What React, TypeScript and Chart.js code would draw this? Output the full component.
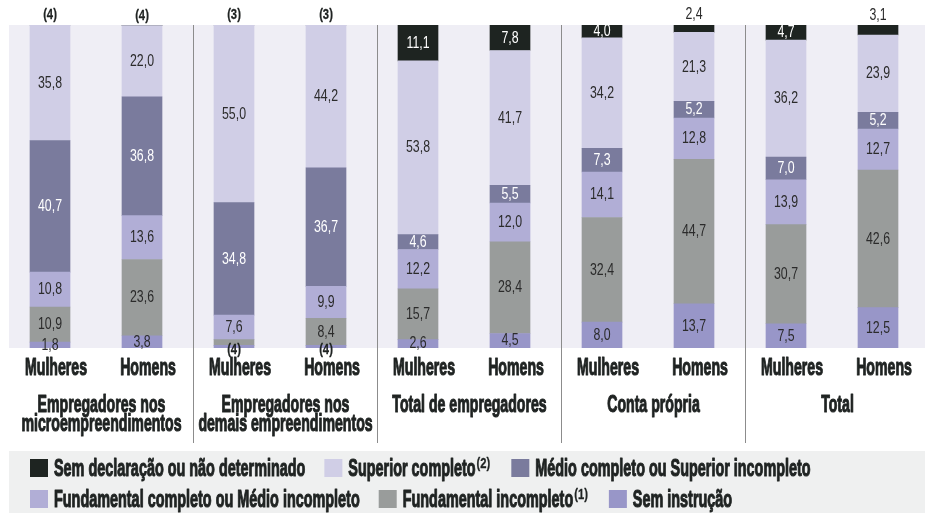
import React, { useEffect, useRef } from "react";
import { Chart, registerables } from "chart.js";

Chart.register(...registerables);

// ---------- data ----------
const categories = [
  "Mulheres", "Homens", "Mulheres", "Homens", "Mulheres",
  "Homens", "Mulheres", "Homens", "Mulheres", "Homens",
];
const groupLabels: string[][] = [
  ["Empregadores nos", "microempreendimentos"],
  ["Empregadores nos", "demais empreendimentos"],
  ["Total de empregadores"],
  ["Conta própria"],
  ["Total"],
];

// stacked bottom -> top
const semInstrucao = [1.8, 3.8, 0.8, 0.8, 2.6, 4.5, 8.0, 13.7, 7.5, 12.5];
const fundIncompleto = [10.9, 23.6, 1.8, 8.4, 15.7, 28.4, 32.4, 44.7, 30.7, 42.6];
const fundCompleto = [10.8, 13.6, 7.6, 9.9, 12.2, 12.0, 14.1, 12.8, 13.9, 12.7];
const medioCompleto = [40.7, 36.8, 34.8, 36.7, 4.6, 5.5, 7.3, 5.2, 7.0, 5.2];
const superiorCompleto = [35.8, 22.0, 55.0, 44.2, 53.8, 41.7, 34.2, 21.3, 36.2, 23.9];
const semDeclaracao = [0, 0, 0, 0, 11.1, 7.8, 4.0, 2.4, 4.7, 3.1];

// footnote labels replacing values (null = show value, "" = no label)
const notesSemInstrucao = [null, null, "(4)", "(4)", null, null, null, null, null, null];
const notesFundIncompleto = [null, null, "", null, null, null, null, null, null, null];
const notesSemDeclaracao = ["(4)", "(4)", "(3)", "(3)", null, null, null, null, null, null];

const seriesNames = [
  "Sem instrução",
  "Fundamental incompleto",
  "Fundamental completo ou Médio incompleto",
  "Médio completo ou Superior incompleto",
  "Superior completo",
  "Sem declaração ou não determinado",
];
const seriesSup = ["", "(1)", "", "", "(2)", ""];

// ---------- styles ----------
const COLORS = ["#9896c8", "#999c9b", "#b1aed6", "#7a7b9d", "#d0cee6", "#1e2421"];
const LABEL_COLORS = ["#2b2b2b", "#2b2b2b", "#2b2b2b", "#ffffff", "#2b2b2b", "#ffffff"];
const PLOT_BG = "#efeef5";
const LEGEND_BG = "#eff0f0";
const FAMILY = "'Liberation Sans', Arial, sans-serif";
const TEXT_DARK = "#1f2322";

const fmt = (v: number) => v.toFixed(1).replace(".", ",");

function drawScaled(
  ctx: CanvasRenderingContext2D,
  text: string,
  x: number,
  y: number,
  font: string,
  sx: number,
  align: CanvasTextAlign,
  baseline: CanvasTextBaseline,
  color: string,
  heavy = 0
) {
  ctx.save();
  ctx.font = font;
  ctx.fillStyle = color;
  ctx.textAlign = align;
  ctx.textBaseline = baseline;
  ctx.translate(x, y);
  ctx.scale(sx, 1);
  ctx.fillText(text, 0, 0);
  if (heavy > 0) {
    ctx.strokeStyle = color;
    ctx.lineWidth = heavy;
    ctx.lineJoin = "round";
    ctx.strokeText(text, 0, 0);
  }
  ctx.restore();
}

const decorPlugin = {
  id: "decor",
  beforeDatasetsDraw(chart: any) {
    const { ctx, chartArea: a, width, height } = chart;
    ctx.save();
    ctx.fillStyle = PLOT_BG;
    ctx.fillRect(9, a.top, width - 9, a.bottom - a.top);
    ctx.fillStyle = LEGEND_BG;
    ctx.fillRect(9, 451, width - 9, height - 451);
    // group separators
    const xs = chart.scales.x;
    ctx.strokeStyle = "#8c8c8c";
    ctx.lineWidth = 1;
    for (let i = 2; i < categories.length; i += 2) {
      const b = (xs.getPixelForValue(i - 1) + xs.getPixelForValue(i)) / 2 + 5;
      const px = Math.round(b) + 0.5;
      ctx.beginPath();
      ctx.moveTo(px, a.top);
      ctx.lineTo(px, 443);
      ctx.stroke();
    }
    ctx.restore();
  },
  afterDatasetsDraw(chart: any) {
    const { ctx } = chart;
    const xs = chart.scales.x;

    const boldFont = `bold 23px ${FAMILY}`;
    const valFont = `17px ${FAMILY}`;
    const noteFont = `bold 15px ${FAMILY}`;
    const supFont = `bold 14px ${FAMILY}`;
    ctx.save();
    ctx.font = boldFont;
    const sxB = 62 / ctx.measureText("Mulheres").width;
    ctx.font = valFont;
    const sxV = 24 / ctx.measureText("22,0").width;
    ctx.restore();
    const sxL = sxB * 1.02;
    const sxN = 0.75;
    const HEAVY = 1.1;

    // value labels
    const notes = [notesSemInstrucao, notesFundIncompleto, null, null, null, notesSemDeclaracao];
    chart.data.datasets.forEach((ds: any, di: number) => {
      const meta = chart.getDatasetMeta(di);
      meta.data.forEach((el: any, j: number) => {
        const v = ds.data[j];
        const nArr = notes[di];
        const note = nArr ? nArr[j] : null;
        if (note === "") return;
        const cx = el.x;
        if (di === 5) {
          if (note) {
            drawScaled(ctx, note, cx, el.y - 10, noteFont, sxN, "center", "middle", TEXT_DARK, 0.3);
          } else if (v < 3.5) {
            drawScaled(ctx, fmt(v), cx, el.y - 10, valFont, sxV, "center", "middle", "#2b2b2b");
          } else {
            drawScaled(ctx, fmt(v), cx, (el.y + el.base) / 2, valFont, sxV, "center", "middle", LABEL_COLORS[di]);
          }
          return;
        }
        if (note) {
          drawScaled(ctx, note, cx, el.base + 2, noteFont, sxN, "center", "middle", TEXT_DARK, 0.3);
          return;
        }
        drawScaled(ctx, fmt(v), cx, (el.y + el.base) / 2, valFont, sxV, "center", "middle", LABEL_COLORS[di]);
      });
    });

    // category labels
    categories.forEach((c, i) => {
      drawScaled(ctx, c, xs.getPixelForValue(i) + 6, 375, boldFont, sxB, "center", "alphabetic", TEXT_DARK, HEAVY);
    });

    // group labels
    groupLabels.forEach((lines, g) => {
      const gx = (xs.getPixelForValue(g * 2) + xs.getPixelForValue(g * 2 + 1)) / 2 + 5.5;
      lines.forEach((ln, k) => {
        drawScaled(ctx, ln, gx, 412 + k * 19, boldFont, sxB, "center", "alphabetic", TEXT_DARK, HEAVY);
      });
    });

    // legend
    const order = [5, 4, 3, 2, 1, 0];
    const rows = [order.slice(0, 3), order.slice(3)];
    const rowBase = [476, 507];
    const sxS = 0.8;
    rows.forEach((row, r) => {
      let x = 30;
      row.forEach((si) => {
        const base = rowBase[r];
        ctx.save();
        ctx.fillStyle = COLORS[si];
        ctx.fillRect(x, base - 17, 18, 18);
        ctx.restore();
        x += 18 + 6;
        ctx.save();
        ctx.font = boldFont;
        const w = ctx.measureText(seriesNames[si]).width * sxL;
        ctx.restore();
        drawScaled(ctx, seriesNames[si], x, base, boldFont, sxL, "left", "alphabetic", TEXT_DARK, HEAVY);
        x += w;
        if (seriesSup[si]) {
          ctx.save();
          ctx.font = supFont;
          const ws = ctx.measureText(seriesSup[si]).width * sxS;
          ctx.restore();
          drawScaled(ctx, seriesSup[si], x + 1, base - 8, supFont, sxS, "left", "alphabetic", TEXT_DARK, 0.3);
          x += ws + 1 + 21;
        } else {
          x += 19;
        }
      });
    });
  },
};

export default function App() {
  const ref = useRef<HTMLCanvasElement | null>(null);
  useEffect(() => {
    if (!ref.current) return;
    const series = [semInstrucao, fundIncompleto, fundCompleto, medioCompleto, superiorCompleto, semDeclaracao];
    const chart = new Chart(ref.current, {
      type: "bar",
      data: {
        labels: categories,
        datasets: series.map((d, i) => ({
          label: seriesNames[i],
          data: d,
          backgroundColor: COLORS[i],
          borderWidth: 0,
          barThickness: 40,
        })),
      },
      options: {
        animation: false,
        responsive: false,
        devicePixelRatio: 1,
        layout: { padding: { left: 4, right: 1, top: 25, bottom: 165 } },
        plugins: { legend: { display: false }, tooltip: { enabled: false } },
        scales: {
          x: { stacked: true, display: false, grid: { display: false } },
          y: { stacked: true, display: false, min: 0, max: 100, grid: { display: false } },
        },
      },
      plugins: [decorPlugin],
    });
    return () => chart.destroy();
  }, []);
  return (
    <div style={{ position: "fixed", left: 0, top: 0, width: 925, height: 513, background: "#fff" }}>
      <canvas ref={ref} width={925} height={513} style={{ display: "block", width: 925, height: 513 }} />
    </div>
  );
}
